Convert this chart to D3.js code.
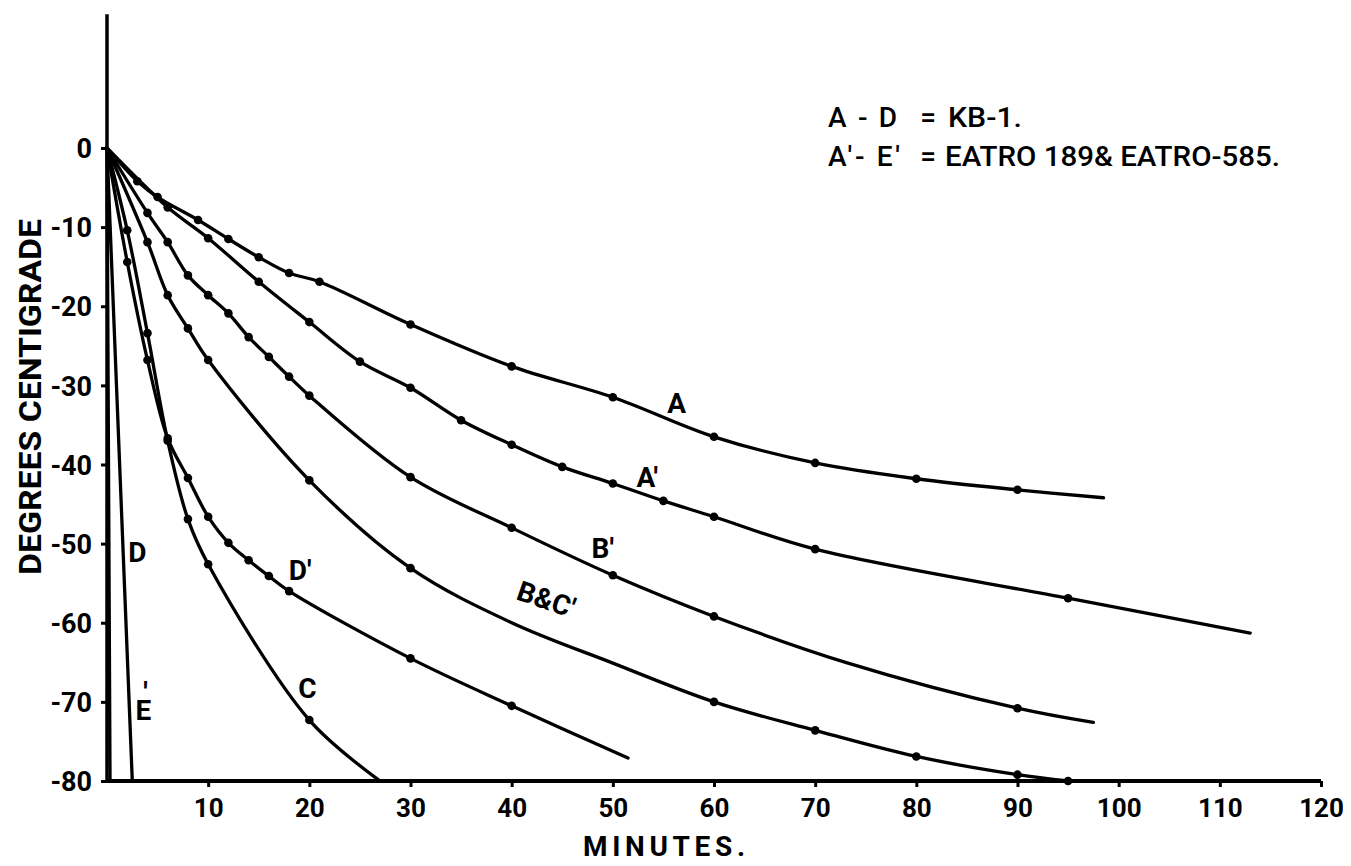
<!DOCTYPE html>
<html>
<head>
<meta charset="utf-8">
<script src="https://cdn.jsdelivr.net/npm/d3@7"></script>
<style>
  html, body { margin: 0; padding: 0; background: #fff; }
  svg { display: block; }
  text { font-family: Roboto, "DejaVu Sans", sans-serif; fill: #000; }
</style>
</head>
<body>
<svg id="chart" width="1351" height="866"></svg>
<script>
// ---- data ----
const xTicks = [10, 20, 30, 40, 50, 60, 70, 80, 90, 100, 110, 120];
const yTicks = [0, -10, -20, -30, -40, -50, -60, -70, -80];
const xTitle = "MINUTES.";
const yTitle = "DEGREES CENTIGRADE";
const legendLines = [["A - D", "=", "KB-1."], ["A′- E′", "=", "EATRO 189& EATRO-585."]];

// [minutes, degrees, marked(1)/unmarked(0)]
const seriesA = [[0,0,0],[3,-4.2,1],[5,-6.2,1],[9,-9.1,1],[12,-11.5,1],[15,-13.8,1],[18,-15.8,1],[21,-16.9,1],[30,-22.3,1],[40,-27.6,1],[50,-31.5,1],[60,-36.5,1],[70,-39.8,1],[80,-41.8,1],[90,-43.2,1],[98.5,-44.2,0]];
const seriesA1 = [[0,0,0],[6,-7.5,1],[10,-11.4,1],[15,-16.9,1],[20,-22.0,1],[25,-27.0,1],[30,-30.3,1],[35,-34.4,1],[40,-37.5,1],[45,-40.3,1],[50,-42.4,1],[55,-44.6,1],[60,-46.6,1],[70,-50.7,1],[95,-56.9,1],[113,-61.3,0]];
const seriesB1 = [[0,0,0],[4,-8.2,1],[6,-11.9,1],[8,-16.1,1],[10,-18.6,1],[12,-20.9,1],[14,-23.9,1],[16,-26.4,1],[18,-28.9,1],[20,-31.3,1],[30,-41.6,1],[40,-48.0,1],[50,-54.0,1],[60,-59.2,1],[73,-65.0,0],[90,-70.8,1],[97.5,-72.6,0]];
const seriesBC1 = [[0,0,0],[4,-11.9,1],[6,-18.6,1],[8,-22.8,1],[10,-26.8,1],[20,-42.0,1],[30,-53.1,1],[40,-60.0,0],[50,-65.1,0],[60,-70.0,1],[70,-73.6,1],[80,-76.9,1],[90,-79.2,1],[95,-80,1]];
const seriesD1 = [[0,0,0],[2,-14.4,1],[4,-26.8,1],[6,-36.7,1],[8,-41.7,1],[10,-46.6,1],[12,-49.9,1],[14,-52.1,1],[16,-54.1,1],[18,-56.0,1],[30,-64.5,1],[40,-70.5,1],[51.5,-77.1,0]];
const seriesC = [[0,0,0],[2,-10.4,1],[4,-23.4,1],[6,-37.0,1],[8,-46.9,1],[10,-52.6,1],[20,-72.3,1],[27,-80,0]];
const seriesD = [[0,0,0],[2.5,-80,0]];
const seriesE1 = [[0,0,0],[0.3,-80,0]];

const allSeries = [seriesA, seriesA1, seriesB1, seriesBC1, seriesD1, seriesC, seriesD, seriesE1];

// curve labels: [text, minutes, degrees, rotation]
const curveLabels = [
  ["A", 56.3, -33.5, 0],
  ["A′", 53.4, -42.9, 0],
  ["B′", 49.0, -51.8, 0],
  ["B&C′", 43.1, -58.2, 19],
  ["D′", 19.1, -54.6, 0],
  ["C", 19.8, -69.5, 0],
  ["D", 3.0, -52.3, 0],
  ["E", 3.6, -72.3, 0]
];

// ---- drawing ----
const svg = d3.select("#chart");
const x = d3.scaleLinear().domain([0, 120]).range([107, 1321]);
const y = d3.scaleLinear().domain([-80, 0]).range([781, 148]);

// y axis line (extends above zero)
svg.append("line")
  .attr("x1", x(0)).attr("x2", x(0))
  .attr("y1", y(16.9)).attr("y2", y(-80) + 1)
  .attr("stroke", "#000").attr("stroke-width", 3.5);

const yAxis = svg.append("g").attr("transform", `translate(${x(0)},0)`)
  .call(d3.axisLeft(y).tickValues(yTicks).tickSize(6).tickSizeOuter(0).tickFormat(d => d === 0 ? "0" : "-" + Math.abs(d)));
yAxis.select(".domain").remove();
yAxis.selectAll(".tick line").attr("stroke", "#000").attr("stroke-width", 3);
yAxis.selectAll(".tick text")
  .attr("x", -15).attr("dy", "0.36em")
  .style("font-size", "27px").style("font-weight", 700)
  .style("font-family", "Roboto, sans-serif");

const xAxis = svg.append("g").attr("transform", `translate(0,${y(-80)})`)
  .call(d3.axisBottom(x).tickValues(xTicks).tickSize(6).tickSizeOuter(0).tickFormat(d3.format("d")));
xAxis.select(".domain").attr("stroke", "#000").attr("stroke-width", 4)
  .attr("d", `M${x(0) - 1},0H${x(120)}`);
xAxis.selectAll(".tick line").attr("stroke", "#000").attr("stroke-width", 3);
xAxis.selectAll(".tick text")
  .attr("y", 36).attr("dy", 0)
  .style("font-size", "26px").style("font-weight", 700)
  .style("font-family", "Roboto, sans-serif");

// axis titles
svg.append("text")
  .attr("transform", `translate(41,${397}) rotate(-90)`)
  .attr("text-anchor", "middle")
  .attr("textLength", 356).attr("lengthAdjust", "spacingAndGlyphs")
  .style("font-size", "31px").style("font-weight", 700)
  .text(yTitle);

svg.append("text")
  .attr("x", 583).attr("y", 856)
  .attr("textLength", 162).attr("lengthAdjust", "spacing")
  .style("font-size", "28px").style("font-weight", 700)
  .text(xTitle);

// curves
const line = d3.line().x(d => x(d[0])).y(d => y(d[1])).curve(d3.curveCatmullRom.alpha(0.5));
svg.append("g").selectAll("path").data(allSeries).join("path")
  .attr("d", line)
  .attr("fill", "none").attr("stroke", "#000").attr("stroke-width", 3.3)
  .attr("stroke-linejoin", "round").attr("stroke-linecap", "round");

svg.append("g").selectAll("circle")
  .data(allSeries.flatMap(s => s.filter(d => d[2] === 1)))
  .join("circle")
  .attr("cx", d => x(d[0])).attr("cy", d => y(d[1]))
  .attr("r", 4.3).attr("fill", "#000");

// curve labels
svg.append("g").selectAll("text").data(curveLabels).join("text")
  .attr("transform", d => `translate(${x(d[1])},${y(d[2])}) rotate(${d[3]})`)
  .attr("text-anchor", "middle")
  .style("font-size", "28px").style("font-weight", 700)
  .text(d => d[0]);
// prime over E
svg.append("text")
  .attr("x", x(3.8)).attr("y", y(-70.0))
  .attr("text-anchor", "middle")
  .style("font-size", "28px").style("font-weight", 700)
  .text("′");

// legend (top right)
const legend = svg.append("g");
const rows = [127, 166];
legendLines.forEach((ln, i) => {
  legend.append("text").attr("x", 828).attr("y", rows[i])
    .attr("textLength", i === 0 ? 69 : 72).attr("lengthAdjust", "spacing")
    .style("font-size", "28px").style("font-weight", 500).attr("xml:space", "preserve")
    .text(ln[0]);
  legend.append("text").attr("x", 928).attr("y", rows[i]).attr("text-anchor", "middle")
    .style("font-size", "28px").style("font-weight", 500)
    .text(ln[1]);
  legend.append("text").attr("x", i === 0 ? 948 : 945).attr("y", rows[i])
    .attr("textLength", i === 0 ? 74 : 335).attr("lengthAdjust", "spacingAndGlyphs")
    .style("font-size", "28px").style("font-weight", 500)
    .text(ln[2]);
});
</script>
</body>
</html>
